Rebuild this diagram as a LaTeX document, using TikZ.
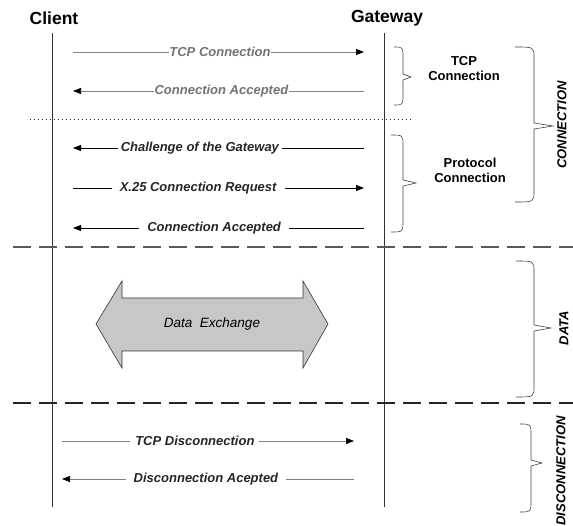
\documentclass[tikz,border=0pt]{standalone}
\usepackage{fontspec}
\setmainfont{Liberation Sans}
\usetikzlibrary{arrows.meta}

\newcommand{\lblsize}{\fontsize{13}{15}\selectfont}
\newcommand{\rbrc}[6]{%
  \draw[brc] (#1,#4) .. controls (#2,#4) .. (#2,#4+11) -- (#2,#5-3) -- (#3,#5) -- (#2,#5+3) -- (#2,#6-11) .. controls (#2,#6) .. (#1,#6);}

\begin{document}
\begin{tikzpicture}[x=1pt,y=-1pt,
  head/.style={font=\fontsize{17.5}{20}\selectfont\bfseries},
  life/.style={draw=black!80,line width=.8pt},
  msg/.style={draw=black,line width=.8pt},
  lmsg/.style={msg,draw=black!50,line width=.7pt},
  tip/.style={-{Triangle[length=8pt,width=6pt,black]}},
  lbl/.style={font=\lblsize\bfseries\itshape,text=black!85,fill=white,inner xsep=1pt,inner ysep=1pt},
  wlbl/.style={lbl,inner xsep=8pt},
  brc/.style={draw=black!75,line width=.6pt},
  phase/.style={font=\fontsize{13}{15}\selectfont\bfseries,align=center},
  vphase/.style={font=\fontsize{13}{15}\selectfont\bfseries\itshape,rotate=90},
  sep/.style={draw=black!85,line width=1.1pt,dash pattern=on 18pt off 8pt}]
\useasboundingbox (0,0) rectangle (573,526);

\node[head] (client) at (54,18) {Client};
\node[head] (gateway) at (387,18) {Gateway};

\coordinate (cl-top) at (52,33);
\coordinate (cl-bot) at (52,507);
\coordinate (gw-top) at (384,33);
\coordinate (gw-bot) at (384,507);
\draw[life] (cl-top) -- (cl-bot);
\draw[life] (gw-top) -- (gw-bot);

\coordinate (dot-l) at (30,120);
\coordinate (dot-r) at (413,120);
\draw[black!85,line width=1pt,dash pattern=on 1pt off 3pt] (dot-l) -- (dot-r);

\coordinate (sep1-l) at (13,247);
\coordinate (sep1-r) at (573,247);
\coordinate (sep2-l) at (13,403);
\coordinate (sep2-r) at (573,403);
\draw[sep,draw=black!65] (sep1-l) -- (sep1-r);
\draw[sep] (sep2-l) -- (sep2-r);

\coordinate (c1) at (73,52);  \coordinate (g1) at (364,52);
\coordinate (c2) at (73,91);  \coordinate (g2) at (364,91);
\coordinate (c3) at (73,148); \coordinate (g3) at (364,148);
\coordinate (c4) at (73,188); \coordinate (g4) at (364,188);
\coordinate (c5) at (73,228); \coordinate (g5) at (364,228);
\coordinate (c6) at (62,441); \coordinate (g6) at (354,441);
\coordinate (c7) at (62,479); \coordinate (g7) at (354,479);

\draw[lmsg,tip] (c1) -- (g1) node[lbl,text=black!55,pos=.505,inner xsep=0pt] (m1) {TCP Connection};
\draw[lmsg,tip] (g2) -- (c2) node[lbl,text=black!55,pos=.49] (m2) {Connection Accepted};
\draw[msg,tip] (g3) -- (c3) node[lbl,pos=.564,inner xsep=3pt] (m3) {Challenge of the Gateway};
\draw[msg,tip] (c4) -- (g4) node[wlbl,pos=.43] (m4) {X.25 Connection Request};
\draw[msg,tip] (g5) -- (c5) node[wlbl,pos=.515] (m5) {Connection Accepted};
\draw[lmsg,tip] (c6) -- (g6) node[lbl,pos=.455,inner xsep=5pt] (m6) {TCP Disconnection};
\draw[lmsg,tip] (g7) -- (c7) node[wlbl,pos=.507] (m7) {Disconnection Acepted};

\draw[draw=black!80,line width=.6pt,fill=black!22]
  (96,324) -- (122,281) -- (122,298) -- (303,298) -- (303,281) -- (328,324)
  -- (303,368) -- (303,351) -- (122,351) -- (122,368) -- cycle;
\node[font=\fontsize{13.5}{15}\selectfont\itshape] (xchg) at (212,324) {Data\ \ Exchange};

\rbrc{394}{403}{411}{47}{77}{105}
\rbrc{391}{403}{416}{135}{183}{232}
\rbrc{515}{534}{553}{47}{126}{202}
\rbrc{516}{534}{551}{261}{328}{397}
\rbrc{520}{531}{542}{424}{463}{512}

\node[phase] (tcp) at (464,69) {TCP\\Connection};
\node[phase] (proto) at (470,170) {Protocol\\Connection};
\node[vphase] (conn) at (562,125) {CONNECTION};
\node[vphase] (data) at (564,328) {DATA};
\node[vphase] (disc) at (561,471) {DISCONNECTION};
\end{tikzpicture}
\end{document}
